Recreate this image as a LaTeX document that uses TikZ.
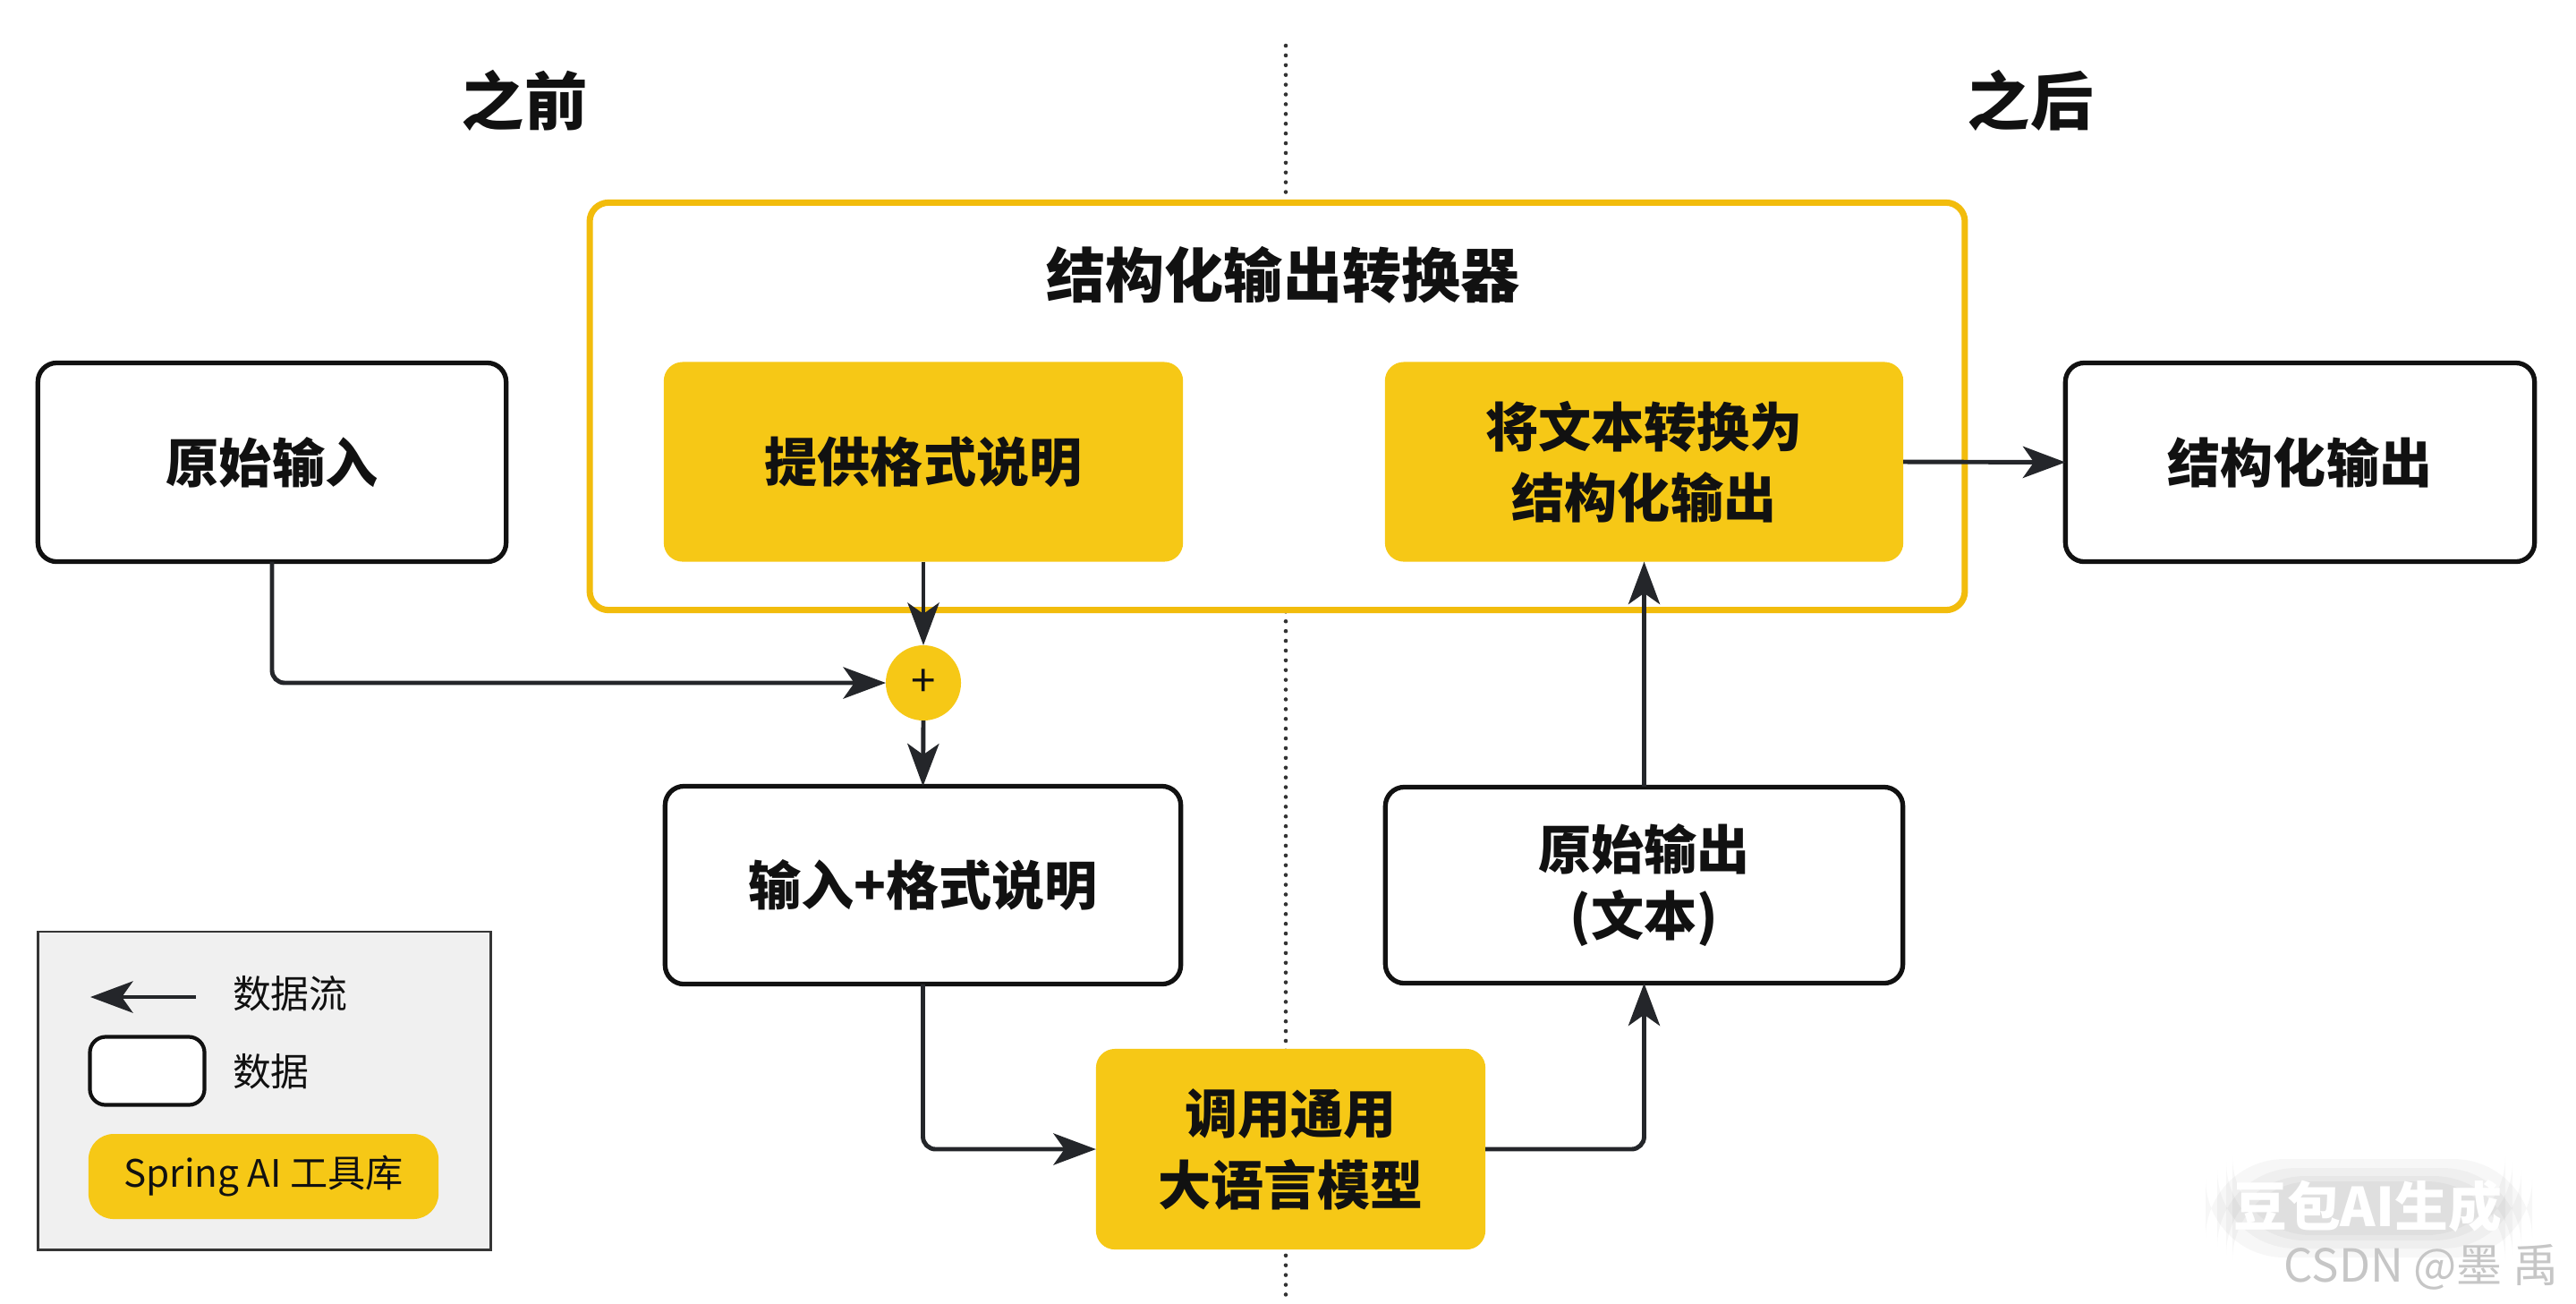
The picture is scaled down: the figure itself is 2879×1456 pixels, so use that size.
\documentclass[tikz,border=0pt]{standalone}
\usepackage{fontspec}
\setmainfont{Noto Sans CJK SC}
\usetikzlibrary{arrows.meta}
\definecolor{ybox}{HTML}{F6C816}
\definecolor{yborder}{HTML}{F2BC0C}
\definecolor{legbg}{HTML}{F0F0F0}
\definecolor{ink}{HTML}{111111}
\definecolor{arrowc}{HTML}{24262A}
\definecolor{dotc}{HTML}{333333}
\begin{document}
\begin{tikzpicture}[x=0.01cm,y=-0.01cm,
  every node/.style={inner sep=0pt, outer sep=0pt, text=ink},
  boxfont/.style={font=\bfseries\fontsize{16.8pt}{22.5pt}\selectfont, align=center},
  databox/.style={boxfont, draw=ink, line width=1.5pt, fill=white, rounded corners=6pt},
  toolbox/.style={boxfont, fill=ybox, rounded corners=6pt},
  arr/.style={draw=arrowc, line width=1.4pt, rounded corners=4pt, -{Stealth[length=13.5pt,width=10pt,inset=3.5pt]}},
  dotline/.style={draw=dotc, line width=1.3pt, line cap=round, dash pattern=on 0pt off 3.1pt},
  legfont/.style={font=\fontsize{12.2pt}{14pt}\selectfont},
  glow/.style={fill=black, opacity=0.03, rounded corners=25pt}
]
\useasboundingbox (0,0) rectangle (2879,1456);
\fill[white] (0,0) rectangle (2879,1456);

% divider
\coordinate (divtop) at (1437,51);
\coordinate (divbot) at (1437,1456);
\draw[dotline] (divtop) -- (divbot);

% section titles
\node[font=\bfseries\fontsize{20pt}{22pt}\selectfont] (before) at (586,112) {之前};
\node[font=\bfseries\fontsize{20pt}{22pt}\selectfont] (after) at (2269,112) {之后};

% converter frame
\node[draw=yborder, line width=2pt, fill=white, rounded corners=6pt,
      minimum width=15.36cm, minimum height=4.55cm] (frame) at (1427.5,454) {};
\node[font=\bfseries\fontsize{18.8pt}{22pt}\selectfont] (frametitle) at (1434,307) {结构化输出转换器};

% boxes
\node[databox, minimum width=5.23cm, minimum height=2.22cm] (rawin) at (304,516.5) {原始输入};
\node[toolbox, minimum width=5.80cm, minimum height=2.23cm] (fmt) at (1032,516) {提供格式说明};
\node[toolbox, minimum width=5.79cm, minimum height=2.23cm] (conv) at (1837.5,516) {将文本转换为\\结构化输出};
\node[databox, minimum width=5.24cm, minimum height=2.22cm] (structout) at (2570.5,516.5) {结构化输出};

\node[circle, fill=ybox, minimum size=0.84cm, font=\fontsize{14pt}{14pt}\selectfont] (plus) at (1032,763) {+};

\node[databox, minimum width=5.76cm, minimum height=2.21cm] (inpfmt) at (1031.5,989) {输入+格式说明};
\node[databox, minimum width=5.78cm, minimum height=2.19cm, font=\bfseries\fontsize{16.8pt}{21.3pt}\selectfont] (rawout) at (1837.5,989) {原始输出\\(文本)};
\node[toolbox, minimum width=4.35cm, minimum height=2.24cm, font=\bfseries\fontsize{16.8pt}{22.8pt}\selectfont] (llm) at (1442.5,1284) {调用通用\\大语言模型};

% connectors
\draw[arr] (fmt.south) -- (plus.north);
\draw[arr] (rawin.south) |- (plus.west);
\draw[arr] (plus.south) -- (inpfmt.north);
\draw[arr] (inpfmt.south) |- (llm.west);
\draw[arr] (llm.east) -| (rawout.south);
\draw[arr] (rawout.north) -- (conv.south);
\draw[arr] (conv.east) -- (structout.west);

% legend
\node[draw=ink!85, line width=0.8pt, fill=legbg, minimum width=5.05cm, minimum height=3.55cm] (legend) at (295.5,1218.5) {};
\coordinate (lgA) at (219,1114);
\coordinate (lgB) at (101,1114);
\draw[arr] (lgA) -- (lgB);
\node[legfont, anchor=west] (lgflow) at (260,1110) {数据流};
\node[draw=ink, line width=1.2pt, fill=white, rounded corners=5pt, minimum width=1.28cm, minimum height=0.76cm] (lgbox) at (164.5,1196.5) {};
\node[legfont, anchor=west] (lgdata) at (260,1197) {数据};
\node[fill=ybox, rounded corners=8pt, minimum width=3.91cm, minimum height=0.95cm, font=\fontsize{12pt}{14pt}\selectfont] (lgtool) at (294.5,1314.5) {Spring AI 工具库};

% watermark
\fill[glow] (2465,1295) rectangle (2830,1405);
\fill[glow] (2478,1305) rectangle (2818,1395);
\fill[glow] (2488,1314) rectangle (2808,1386);
\fill[glow] (2495,1320) rectangle (2800,1380);
\node[font=\bfseries\fontsize{17pt}{19pt}\selectfont, text=white] (wm) at (2646,1348) {豆包AI生成};
\node[font=\fontsize{14.5pt}{16pt}\selectfont, text=gray!45] (csdn) at (2706,1416) {CSDN @墨 禹};
\end{tikzpicture}
\end{document}
